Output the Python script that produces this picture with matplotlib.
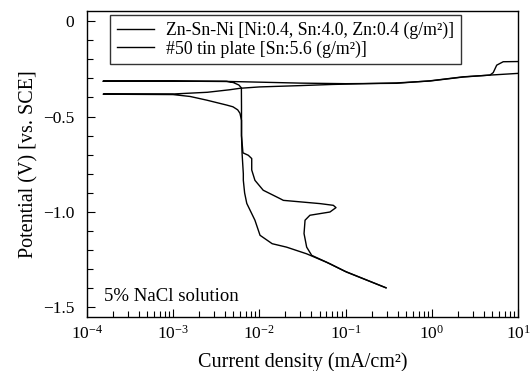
import matplotlib
matplotlib.use("Agg")
import matplotlib.pyplot as plt
from matplotlib.ticker import MultipleLocator, LogLocator, NullFormatter

plt.rcParams['font.family'] = ['Liberation Serif', 'DejaVu Serif']
plt.rcParams['mathtext.fontset'] = 'stix'

# Zn-Sn-Ni  (current density mA/cm2, potential V vs SCE)
# cathodic branch from the far end up to the corrosion potential
znsnni_cath_i = [0.294, 0.098, 0.060, 0.0354, 0.0207, 0.0141, 0.0102, 0.0089, 0.00716,
                 0.00676, 0.00653, 0.00653, 0.00631, 0.00622, 0.00622, 0.00597, 0.00562,
                 0.00495, 0.00419, 0.00245, 0.00158, 0.0010, 0.000155]
znsnni_cath_v = [-1.397, -1.31, -1.263, -1.219, -1.184, -1.166, -1.122, -1.043, -0.955,
                 -0.90, -0.834, -0.80, -0.69, -0.60, -0.52, -0.483, -0.465,
                 -0.449, -0.44, -0.414, -0.395, -0.385, -0.383]
# anodic branch from the corrosion potential outwards
znsnni_anod_i = [0.000155, 0.0010, 0.0025, 0.0045, 0.0060, 0.010, 0.030, 0.070, 0.20,
                 0.39, 0.95, 2.31, 4.71, 10.0]
znsnni_anod_v = [-0.383, -0.382, -0.373, -0.360, -0.352, -0.345, -0.338, -0.332, -0.327,
                 -0.324, -0.314, -0.293, -0.283, -0.274]

# #50 tin plate
tin_cath_i = [0.294, 0.103, 0.0659, 0.0405, 0.0354, 0.0330, 0.0339, 0.0386, 0.0659,
              0.0774, 0.0721, 0.0505, 0.0190, 0.0174, 0.0111, 0.0089, 0.00817, 0.00817,
              0.00746, 0.00646, 0.00622, 0.00622, 0.0062, 0.0058, 0.0050, 0.0042,
              0.0010, 0.000155]
tin_cath_v = [-1.397, -1.315, -1.271, -1.227, -1.184, -1.113, -1.043, -1.017, -1.0,
              -0.977, -0.965, -0.956, -0.939, -0.93, -0.886, -0.834, -0.78, -0.72,
              -0.703, -0.69, -0.60, -0.45, -0.35, -0.335, -0.322, -0.316,
              -0.315, -0.315]
tin_anod_i = [0.000155, 0.0010, 0.0040, 0.0065, 0.030, 0.10, 0.39, 0.95, 2.31, 4.71,
              5.14, 5.64, 6.71, 10.0]
tin_anod_v = [-0.315, -0.315, -0.316, -0.318, -0.325, -0.328, -0.326, -0.313, -0.292,
              -0.283, -0.270, -0.231, -0.213, -0.212]

labels = ['Zn-Sn-Ni [Ni:0.4, Sn:4.0, Zn:0.4 (g/m\u00b2)]', '#50 tin plate [Sn:5.6 (g/m\u00b2)]']
xticks = [1e-4, 1e-3, 1e-2, 1e-1, 1e0, 1e1]
xticklabels = [r'$\mathregular{10^{-4}}$', r'$\mathregular{10^{-3}}$', r'$\mathregular{10^{-2}}$',
               r'$\mathregular{10^{-1}}$', r'$\mathregular{10^{0}}$', r'$\mathregular{10^{1}}$']
yticks = [0, -0.5, -1.0, -1.5]
yticklabels = ['0', '\u22120.5', '\u22121.0', '\u22121.5']

fig = plt.figure(figsize=(5.32, 3.71), dpi=100)
ax = fig.add_axes([0.163, 0.146, 0.811, 0.824])

ax.plot(znsnni_cath_i + znsnni_anod_i[1:], znsnni_cath_v + znsnni_anod_v[1:],
        color='black', lw=1.0, label=labels[0])
ax.plot(tin_cath_i + tin_anod_i[1:], tin_cath_v + tin_anod_v[1:],
        color='black', lw=1.0, label=labels[1])

ax.set_xscale('log')
ax.set_xlim(1e-4, 1e1)
ax.set_ylim(-1.549, 0.052)

ax.set_xticks(xticks)
ax.set_xticklabels(xticklabels)
ax.xaxis.set_minor_locator(LogLocator(base=10, subs=range(2, 10)))
ax.xaxis.set_minor_formatter(NullFormatter())
ax.set_yticks(yticks)
ax.set_yticklabels(yticklabels)
ax.yaxis.set_minor_locator(MultipleLocator(0.1))

ax.tick_params(which='both', direction='in', labelsize=12.5)
ax.tick_params(which='major', length=6, width=0.8)
ax.tick_params(which='minor', length=4, width=0.8)
ax.tick_params(axis='x', pad=6)
ax.tick_params(axis='y', pad=9)
for s in ax.spines.values():
    s.set_linewidth(1.0)

ax.set_xlabel('Current density (mA/cm\u00b2)', fontsize=14.5, labelpad=6.5)
ax.set_ylabel('Potential (V) [vs. SCE]', fontsize=14.5, labelpad=3)

ax.text(0.04, 0.04, '5% NaCl solution', transform=ax.transAxes, fontsize=13.5,
        ha='left', va='bottom')

leg = ax.legend(loc='upper left', bbox_to_anchor=(0.055, 0.986), fontsize=12.8,
                frameon=True, fancybox=False, handlelength=2.1, handletextpad=0.7,
                borderpad=0.35, labelspacing=0.08, borderaxespad=0)
leg.get_frame().set_edgecolor('black')
leg.get_frame().set_linewidth(1.0)

fig.savefig('out.png', dpi=100)
